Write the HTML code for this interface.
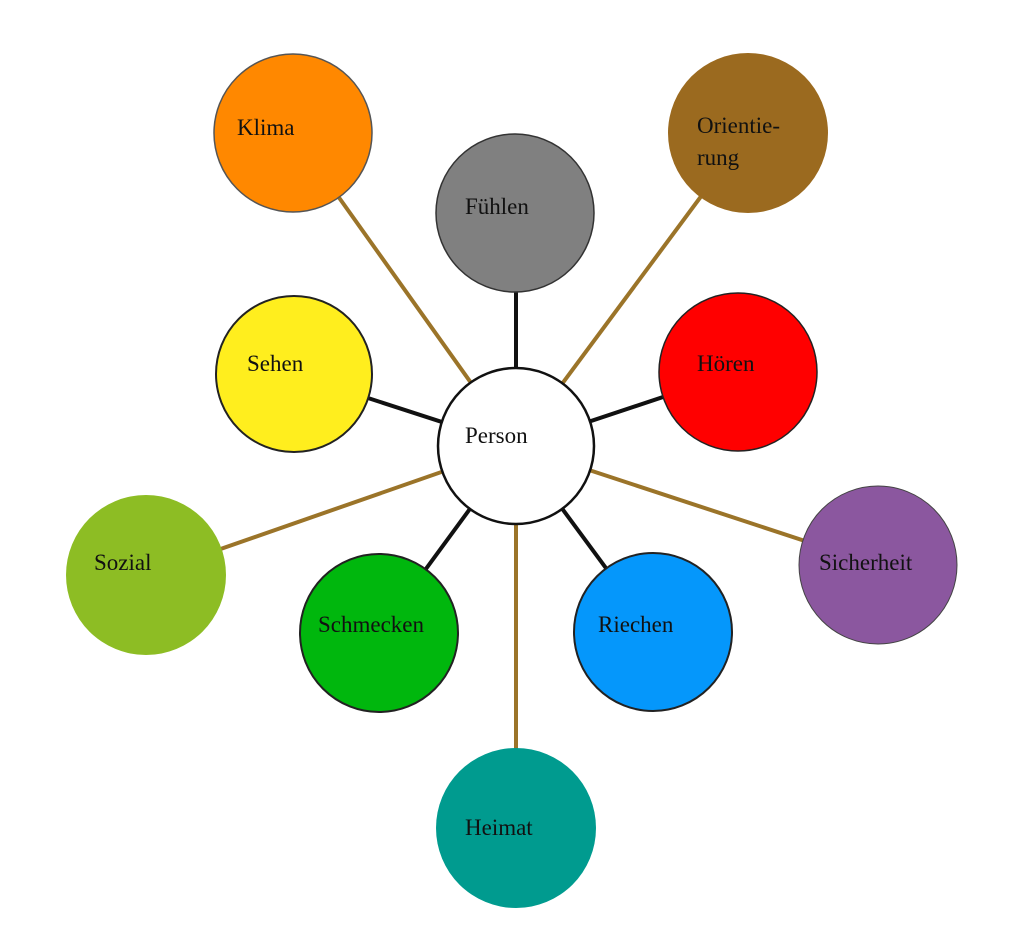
<!DOCTYPE html>
<html><head><meta charset="utf-8"><style>
html,body{margin:0;padding:0;background:#fff;}
svg{display:block;}
text{font-family:"Liberation Serif",serif;font-size:23px;fill:#111;}
</style></head><body>
<svg width="1024" height="942" viewBox="0 0 1024 942" xmlns="http://www.w3.org/2000/svg">
<g stroke-width="4">
<line x1="516" y1="446" x2="293" y2="133" stroke="#9b7429"/>
<line x1="516" y1="446" x2="748" y2="133" stroke="#9b7429"/>
<line x1="516" y1="446" x2="146" y2="575" stroke="#9b7429"/>
<line x1="516" y1="446" x2="878" y2="565" stroke="#9b7429"/>
<line x1="516" y1="446" x2="516" y2="828" stroke="#9b7429"/>
<line x1="516" y1="446" x2="516" y2="213" stroke="#111"/>
<line x1="516" y1="446" x2="294" y2="374" stroke="#111"/>
<line x1="516" y1="446" x2="738" y2="372" stroke="#111"/>
<line x1="516" y1="446" x2="379" y2="633" stroke="#111"/>
<line x1="516" y1="446" x2="653" y2="632" stroke="#111"/>
</g>
<circle cx="293" cy="133" r="79" fill="#ff8800" stroke="#555" stroke-width="1.5"/>
<circle cx="515" cy="213" r="79" fill="#808080" stroke="#333" stroke-width="1.5"/>
<circle cx="748" cy="133" r="80" fill="#9b6a1f"/>
<circle cx="294" cy="374" r="78" fill="#ffee1e" stroke="#222" stroke-width="2"/>
<circle cx="738" cy="372" r="79" fill="#ff0000" stroke="#222" stroke-width="1.5"/>
<circle cx="146" cy="575" r="80" fill="#8dbd24"/>
<circle cx="878" cy="565" r="79" fill="#8b579f" stroke="#444" stroke-width="1"/>
<circle cx="379" cy="633" r="79" fill="#00b70d" stroke="#222" stroke-width="2"/>
<circle cx="653" cy="632" r="79" fill="#0597fb" stroke="#222" stroke-width="2"/>
<circle cx="516" cy="828" r="80" fill="#009b8f"/>
<circle cx="516" cy="446" r="78" fill="#fff" stroke="#111" stroke-width="2.5"/>
<text x="237" y="135">Klima</text>
<text x="465" y="214">Fühlen</text>
<text x="697" y="133">Orientie-</text>
<text x="697" y="165">rung</text>
<text x="247" y="371">Sehen</text>
<text x="697" y="371">Hören</text>
<text x="94" y="570">Sozial</text>
<text x="819" y="570">Sicherheit</text>
<text x="318" y="632">Schmecken</text>
<text x="598" y="632">Riechen</text>
<text x="465" y="835">Heimat</text>
<text x="465" y="443">Person</text>
</svg>
</body></html>
